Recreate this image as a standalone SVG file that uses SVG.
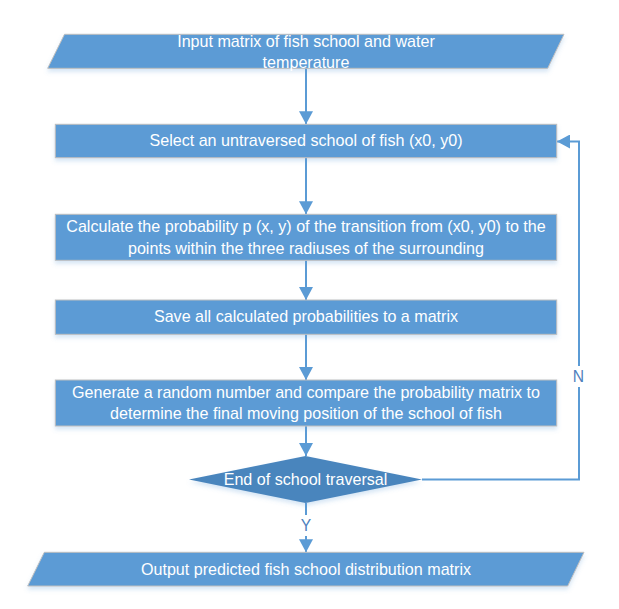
<svg xmlns="http://www.w3.org/2000/svg" width="619" height="609" viewBox="0 0 619 609">
<style>
.shape{fill:#5B9BD5;stroke:#BFBFBF;stroke-width:1;filter:url(#sh)}
.dec{fill:#4A85BD;filter:url(#sh)}
.t{font-family:"Liberation Sans",Arial,sans-serif;font-size:16.1px;fill:#FFFFFF;text-anchor:middle}
.lbl{font-family:"Liberation Sans",Arial,sans-serif;font-size:15.7px;fill:#4F81BD;text-anchor:middle}
.c{fill:none;stroke:#5B9BD5;stroke-width:2}
.ca{fill:none;stroke:#5B9BD5;stroke-width:2;marker-end:url(#ah)}
</style>
<defs>
<filter id="sh" x="-5%" y="-20%" width="110%" height="150%">
<feDropShadow dx="0" dy="3" stdDeviation="2" flood-color="#5B9BD5" flood-opacity="0.25"/>
</filter>
<marker id="ah" markerUnits="userSpaceOnUse" markerWidth="14" markerHeight="14" refX="13" refY="7" orient="auto">
<path d="M0,0 L13,7 L0,14 z" fill="#5B9BD5"/>
</marker>
</defs>
<rect width="619" height="609" fill="#FFFFFF"/>
<g id="connectors">
<path class="ca" d="M306,68.3 V124.3"/>
<path class="ca" d="M306,157.7 V214.3"/>
<path class="ca" d="M306,260.3 V300"/>
<path class="ca" d="M306,334.3 V380"/>
<path class="ca" d="M306,426 V456"/>
<path class="ca" d="M306,503 V552.3"/>
<path class="ca" d="M422,479.5 H579 V141.5 H557"/>
<rect x="570" y="366" width="17" height="21" fill="#FFFFFF"/>
<text class="lbl" x="578.5" y="382.3">N</text>
<rect x="298" y="515" width="16" height="21" fill="#FFFFFF"/>
<text class="lbl" x="306" y="531">Y</text>
</g>
<g id="input">
<polygon class="shape" points="64.5,34.3 564,34.3 547.7,68.3 47.7,68.3"/>
<text class="t" x="306" y="46.5">Input matrix of fish school and water</text>
<text class="t" x="306" y="67.5">temperature</text>
</g>
<g id="select">
<rect class="shape" x="55.3" y="124.3" width="501.4" height="33.4"/>
<text class="t" x="306" y="145.7">Select an untraversed school of fish (x0, y0)</text>
</g>
<g id="calculate">
<rect class="shape" x="55.3" y="214.3" width="501.4" height="46"/>
<text class="t" x="306" y="232.3">Calculate the probability p (x, y) of the transition from (x0, y0) to the</text>
<text class="t" x="306" y="253.5">points within the three radiuses of the surrounding</text>
</g>
<g id="save">
<rect class="shape" x="55.3" y="300" width="501.4" height="34.3"/>
<text class="t" x="306" y="322.3">Save all calculated probabilities to a matrix</text>
</g>
<g id="generate">
<rect class="shape" x="55.3" y="380" width="501.4" height="46"/>
<text class="t" x="306" y="397.8">Generate a random number and compare the probability matrix to</text>
<text class="t" x="306" y="419">determine the final moving position of the school of fish</text>
</g>
<g id="decision">
<polygon class="dec" points="305.5,456 422,479.5 305.5,503 189,479.5"/>
<text class="t" x="305.5" y="484.7">End of school traversal</text>
</g>
<g id="output">
<polygon class="shape" points="44.3,552.3 584,552.3 567.7,586 27.7,586"/>
<text class="t" x="306" y="574.5">Output predicted fish school distribution matrix</text>
</g>
</svg>
